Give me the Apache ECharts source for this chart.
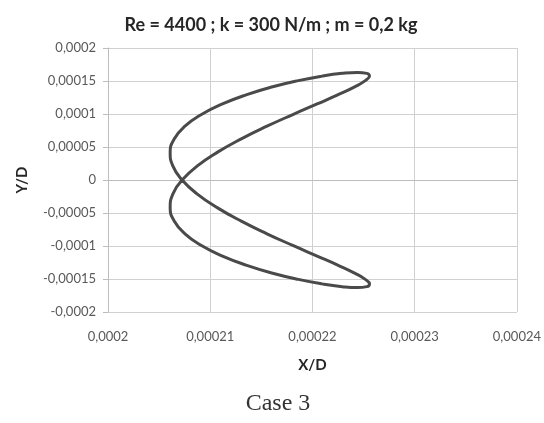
<!DOCTYPE html>
<html>
<head>
<meta charset="utf-8">
<script src="https://cdn.jsdelivr.net/npm/echarts@6/dist/echarts.min.js"></script>
<style>
  html, body { margin: 0; padding: 0; background: #ffffff; }
  #chart { width: 544px; height: 423px; }
</style>
</head>
<body>
<div id="chart"></div>
<script>
// Trajectory of the cylinder centre over one oscillation cycle (X/D, Y/D)
const xOverD = [
  0.00020725, 0.00020874, 0.00021072, 0.00021304, 0.00021555, 0.00021808,
  0.00022046, 0.00022252, 0.00022413, 0.00022517, 0.00022558, 0.00022532,
  0.00022441, 0.00022292, 0.00022094, 0.00021862, 0.00021611, 0.00021358,
  0.00021120, 0.00020914, 0.00020753, 0.00020649, 0.00020608, 0.00020634,
  0.00020725, 0.00020874, 0.00021072, 0.00021304, 0.00021555, 0.00021808,
  0.00022046, 0.00022252, 0.00022413, 0.00022517, 0.00022558, 0.00022532,
  0.00022441, 0.00022292, 0.00022094, 0.00021862, 0.00021611, 0.00021358,
  0.00021120, 0.00020914, 0.00020753, 0.00020649, 0.00020608, 0.00020634,
  0.00020725
];
const yOverD = [
  0, 0.0000213, 0.0000422, 0.0000624, 0.0000815, 0.0000992,
  0.0001153, 0.0001293, 0.0001412, 0.0001506, 0.0001574, 0.0001616,
  0.0001630, 0.0001616, 0.0001574, 0.0001506, 0.0001412, 0.0001293,
  0.0001153, 0.0000992, 0.0000815, 0.0000624, 0.0000422, 0.0000213,
  0, -0.0000213, -0.0000422, -0.0000624, -0.0000815, -0.0000992,
  -0.0001153, -0.0001293, -0.0001412, -0.0001506, -0.0001574, -0.0001616,
  -0.0001630, -0.0001616, -0.0001574, -0.0001506, -0.0001412, -0.0001293,
  -0.0001153, -0.0000992, -0.0000815, -0.0000624, -0.0000422, -0.0000213,
  0
];

const chartTitle = 'Re = 4400 ; k = 300 N/m ; m = 0,2 kg';
const xName = 'X/D';
const yName = 'Y/D';
const caption = 'Case 3';

const xRange = { min: 0.0002, max: 0.00024, step: 0.00001 };
const yRange = { min: -0.0002, max: 0.0002, step: 0.00005 };

// Decimal comma, as in the French-locale source
function commaNum(v) {
  return String(Number(v.toPrecision(6))).replace('.', ',');
}

const points = xOverD.map((x, i) => [x, yOverD[i]]);

const chart = echarts.init(document.getElementById('chart'), null, { renderer: 'canvas' });
const labelColor = '#595959';
const gridColor = '#d0d0d0';
const axisColor = '#bdbdbd';

chart.setOption({
  backgroundColor: '#ffffff',
  animation: false,
  title: [{
    text: chartTitle,
    left: 266, top: 11, textAlign: 'center',
    textStyle: { fontFamily: 'Lato', fontWeight: 'bold', fontSize: 18, color: '#262626' }
  }, {
    text: caption,
    left: 273, top: 387, textAlign: 'center',
    textStyle: { fontFamily: 'Liberation Serif', fontWeight: 'normal', fontSize: 24, color: '#333333' }
  }],
  grid: { left: 108, right: 22, top: 48, bottom: 111 },
  xAxis: {
    type: 'value',
    min: xRange.min, max: xRange.max, interval: xRange.step,
    name: xName, nameLocation: 'middle', nameGap: 46,
    nameTextStyle: { fontFamily: 'Lato', fontWeight: 'bold', fontSize: 15, color: '#262626' },
    axisLine: { show: true, lineStyle: { color: axisColor, width: 1 } },
    axisTick: { show: false },
    axisLabel: { margin: 18, fontFamily: 'Lato', fontSize: 13, color: labelColor, formatter: commaNum },
    splitLine: { show: true, lineStyle: { color: gridColor, width: 1 } }
  },
  yAxis: {
    type: 'value',
    min: yRange.min, max: yRange.max, interval: yRange.step,
    name: yName, nameLocation: 'middle', nameGap: 78, nameRotate: 90,
    nameTextStyle: { fontFamily: 'Lato', fontWeight: 'bold', fontSize: 15, color: '#262626' },
    axisLine: { show: true, lineStyle: { color: axisColor, width: 1 } },
    axisTick: { show: true, length: 5, lineStyle: { color: axisColor } },
    axisLabel: { margin: 12, fontFamily: 'Lato', fontSize: 13, color: labelColor, formatter: commaNum },
    splitLine: { show: true, lineStyle: { color: gridColor, width: 1 } }
  },
  series: [{
    type: 'line',
    data: points,
    showSymbol: false,
    smooth: true,
    lineStyle: { color: '#4a4a4a', width: 3 }
  }]
});
</script>
</body>
</html>
